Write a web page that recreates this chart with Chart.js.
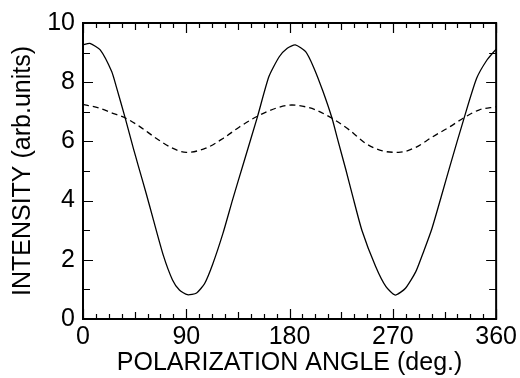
<!DOCTYPE html>
<html>
<head>
<meta charset="utf-8">
<script src="https://cdn.jsdelivr.net/npm/chart.js@4"></script>
<style>
  html, body { margin: 0; padding: 0; background: #fff; }
  #wrap { width: 520px; height: 378px; }
</style>
</head>
<body>
<div id="wrap"><canvas id="chart" width="520" height="378"></canvas></div>
<script>
// values
const solidAngle = [0, 6, 15, 25, 29, 36.5, 44, 48, 55, 61, 70, 78, 84, 91, 99, 106, 113, 122, 130.5, 140, 152, 162, 171, 178, 185, 194, 201, 209, 217, 222, 229, 235, 243, 255, 264, 272, 281, 290, 297, 304, 313, 320, 332, 343, 352, 360];
const solidIntensity = [9.26, 9.31, 9.09, 8.36, 7.85, 6.83, 5.75, 5.2, 4.25, 3.4, 2.15, 1.32, 0.98, 0.82, 0.88, 1.2, 1.85, 2.9, 4.05, 5.28, 6.83, 8.19, 8.86, 9.15, 9.26, 9.03, 8.5, 7.7, 6.78, 6.05, 5.05, 4.15, 3.0, 1.77, 1.09, 0.81, 1.04, 1.6, 2.3, 3.05, 4.25, 5.2, 6.78, 8.13, 8.75, 9.12];

const dashedAngle = [0, 12, 26, 36.5, 49.5, 64, 78, 90, 107, 122, 136, 152, 168, 182, 196, 203, 217, 232, 246, 261, 275, 290, 304, 319, 332, 345, 360];
const dashedIntensity = [7.25, 7.15, 6.95, 6.8, 6.5, 6.1, 5.77, 5.63, 5.77, 6.1, 6.48, 6.85, 7.12, 7.23, 7.15, 7.06, 6.78, 6.39, 5.94, 5.68, 5.63, 5.8, 6.14, 6.48, 6.8, 7.06, 7.17];

const xMin = 0, xMax = 360, xStep = 90, xMinorStep = 11.25;
const yMin = 0, yMax = 10, yStep = 2, yMinorStep = 1;

const FONT = '"Liberation Sans", Arial, Helvetica, sans-serif';

function toPoints(xs, ys) {
    return xs.map((v, i) => ({ x: v, y: ys[i] }));
}

// inward ticks on all four sides plus the frame
const frameTicks = {
    id: 'frameTicks',
    afterDatasetsDraw(chart) {
        const { ctx, chartArea: a, scales: { x, y } } = chart;
        ctx.save();
        ctx.strokeStyle = '#000';
        ctx.lineWidth = 1.2;
        ctx.beginPath();
        for (let v = xMin; v <= xMax + 0.001; v += xMinorStep) {
            const px = Math.round(x.getPixelForValue(v)) + 0.5;
            const len = v % xStep === 0 ? 10 : (v % 45 === 0 ? 7 : 5);
            ctx.moveTo(px, a.bottom); ctx.lineTo(px, a.bottom - len);
            ctx.moveTo(px, a.top); ctx.lineTo(px, a.top + len);
        }
        for (let v = yMin; v <= yMax + 0.001; v += yMinorStep) {
            const py = Math.round(y.getPixelForValue(v)) + 0.5;
            const len = v % yStep === 0 ? 10 : 7;
            ctx.moveTo(a.left, py); ctx.lineTo(a.left + len, py);
            ctx.moveTo(a.right, py); ctx.lineTo(a.right - len, py);
        }
        ctx.stroke();
        ctx.lineWidth = 2;
        ctx.strokeRect(a.left, a.top, a.right - a.left, a.bottom - a.top);
        ctx.restore();
    }
};

new Chart(document.getElementById('chart').getContext('2d'), {
    type: 'scatter',
    data: {
        datasets: [
            {
                data: toPoints(solidAngle, solidIntensity),
                showLine: true,
                borderColor: '#000',
                borderWidth: 1.3,
                pointRadius: 0,
                tension: 0.2
            },
            {
                data: toPoints(dashedAngle, dashedIntensity),
                showLine: true,
                borderColor: '#000',
                borderWidth: 1.3,
                borderDash: [6, 4],
                pointRadius: 0,
                cubicInterpolationMode: 'monotone'
            }
        ]
    },
    options: {
        responsive: false,
        animation: false,
        layout: { padding: { left: 0, right: 23, top: 23, bottom: 0 } },
        plugins: { legend: { display: false }, tooltip: { enabled: false } },
        scales: {
            x: {
                type: 'linear',
                min: xMin, max: xMax,
                grid: { display: false, drawTicks: false },
                border: { display: false },
                ticks: { stepSize: xStep, color: '#000', padding: 3, font: { family: FONT, size: 25 }, maxRotation: 0 },
                title: { display: true, text: 'POLARIZATION ANGLE (deg.)', color: '#000', font: { family: FONT, size: 25 }, padding: 0 },
                afterFit(scale) { scale.height = 59; }
            },
            y: {
                type: 'linear',
                min: yMin, max: yMax,
                grid: { display: false, drawTicks: false },
                border: { display: false },
                ticks: { stepSize: yStep, color: '#000', padding: 8, font: { family: FONT, size: 25 } },
                title: { display: true, text: 'INTENSITY (arb.units)', color: '#000', font: { family: FONT, size: 25 }, padding: { top: 8, bottom: 0 } },
                afterFit(scale) { scale.width = 83; }
            }
        }
    },
    plugins: [frameTicks]
});
</script>
</body>
</html>
